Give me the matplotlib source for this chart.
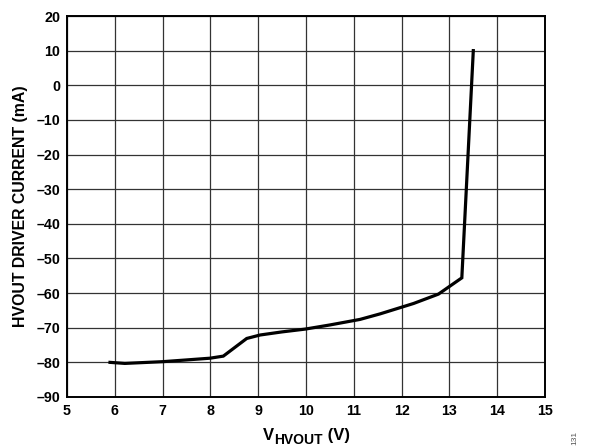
import numpy as np
import matplotlib.pyplot as plt
from matplotlib.transforms import offset_copy

plt.rcParams['font.family'] = ['Liberation Sans', 'DejaVu Sans']

# V_HVOUT (V) vs HVOUT driver current (mA)
v_hvout = [5.90, 6.21, 7.00, 7.50, 7.99, 8.27, 8.76, 9.04, 9.50, 9.98,
           10.50, 11.13, 11.55, 12.25, 12.77, 13.26, 13.50]
i_drv = [-80.0, -80.3, -79.8, -79.3, -78.8, -78.2, -73.1, -72.1, -71.2, -70.4,
         -69.2, -67.6, -66.0, -63.0, -60.3, -55.6, 10.0]

x_ticks = list(range(5, 16))
y_ticks = list(range(-90, 30, 10))

fig = plt.figure(figsize=(5.91, 4.46), dpi=100)
ax = fig.add_axes([67 / 591, 1 - 397 / 446, (545 - 67) / 591, (397 - 16) / 446])

ax.plot(v_hvout, i_drv, color='black', linewidth=2.3, solid_joinstyle='miter')

ax.set_xlim(5, 15)
ax.set_ylim(-90, 20)
ax.set_xticks(x_ticks)
ax.set_yticks(y_ticks)
ax.set_yticklabels([str(t).replace('-', '\u2013') for t in y_ticks])
ax.grid(True, color='#333333', linewidth=0.9)
ax.set_axisbelow(True)
ax.tick_params(length=0, pad=5, labelsize=10.3)
for lbl in ax.get_xticklabels() + ax.get_yticklabels():
    lbl.set_fontweight('bold')
for sp in ax.spines.values():
    sp.set_linewidth(1.4)

ax.set_ylabel('HVOUT DRIVER CURRENT (mA)', fontsize=11.4, fontweight='bold', labelpad=6)

# x label with a large subscript, built from pieces
renderer = fig.canvas.get_renderer()
x0, y0 = 263 / 591, 1 - 440 / 446
t1 = fig.text(x0, y0, 'V', fontsize=12, fontweight='bold', va='baseline')
w1 = t1.get_window_extent(renderer).width
tr2 = offset_copy(fig.transFigure, fig=fig, x=w1, y=-3.5, units='dots')
t2 = fig.text(x0, y0, 'HVOUT', fontsize=10, fontweight='bold', va='baseline', transform=tr2)
w2 = t2.get_window_extent(renderer).width
tr3 = offset_copy(fig.transFigure, fig=fig, x=w1 + w2, y=0, units='dots')
fig.text(x0, y0, ' (V)', fontsize=12, fontweight='bold', va='baseline', transform=tr3)

fig.text(575 / 591, 1 - 438 / 446, '131', rotation=90, fontsize=6, color='#555555',
         ha='center', va='center')

fig.savefig('out.png', dpi=100)
